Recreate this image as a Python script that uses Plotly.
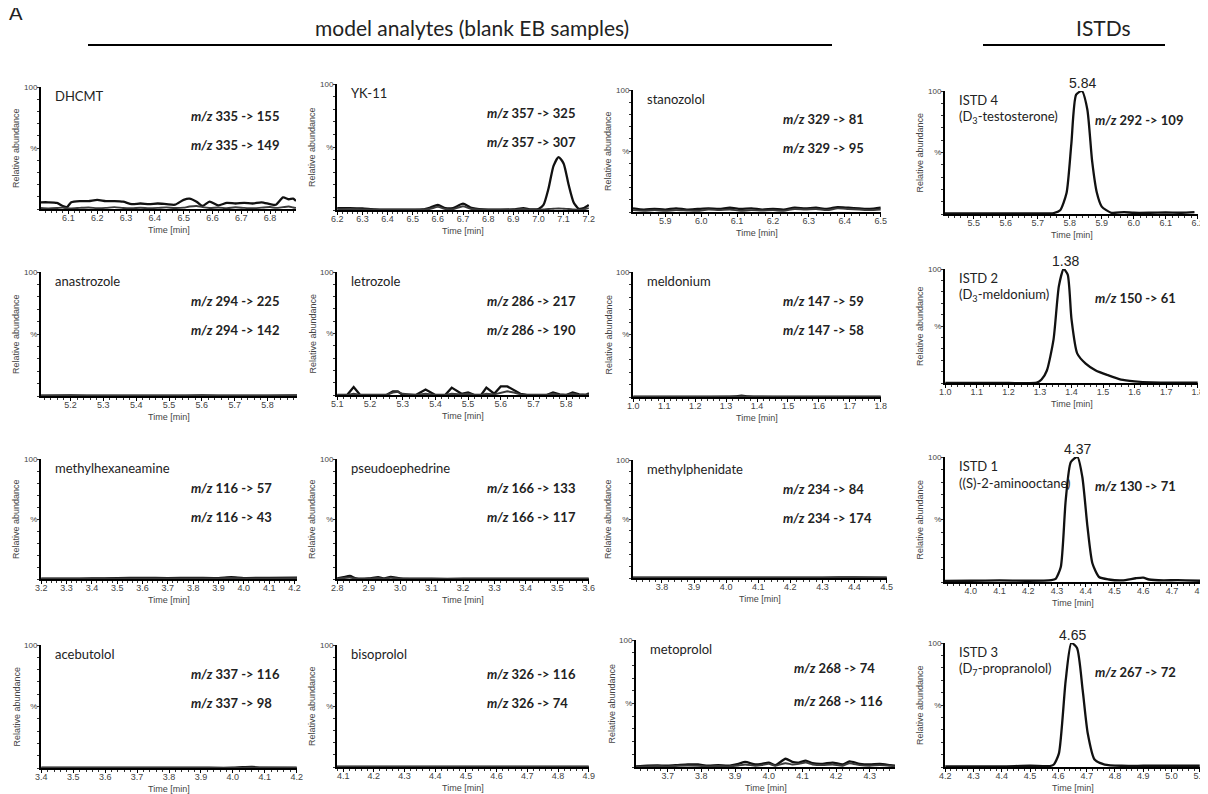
import plotly.graph_objects as go

W, H = 1208, 794
OFF = 8                      # page body margin in the browser
FW, FH = W - OFF, H - OFF    # figure size so that the visible page is exactly W x H

# ---------------- data ----------------
dhcmt_t = [6.005, 6.03, 6.06, 6.08, 6.095, 6.11, 6.14, 6.17, 6.20, 6.23, 6.26, 6.29, 6.32, 6.35, 6.38,
           6.41, 6.44, 6.47, 6.50, 6.52, 6.545, 6.565, 6.59, 6.62, 6.65, 6.68, 6.71, 6.74, 6.77, 6.80,
           6.82, 6.845, 6.865, 6.88, 6.89]
dhcmt_a = [5.5, 5.5, 5, 2.5, 1.5, 5.5, 6.5, 6.5, 7.5, 6.5, 6.5, 6, 4, 4.5, 4,
           4.5, 4, 3.5, 7.5, 8.5, 6, 2.5, 6, 3, 5, 4.5, 5, 4.5, 5.5, 4,
           3.5, 9.5, 8, 8.5, 6.5]
dhcmt_b = [0.8, 0.5, 0.8, 1.2, 0.6, 0.5, 0.9, 1.2, 0.7, 0.9, 1.5, 0.8, 0.6, 1.0, 0.7,
           0.9, 1.3, 0.8, 1.1, 2.0, 2.5, 1.5, 0.8, 1.2, 0.7, 1.4, 0.9, 0.6, 1.1, 1.6,
           0.9, 1.5, 2.0, 1.2, 0.9]

yk11_t = [6.20, 6.25, 6.30, 6.35, 6.40, 6.45, 6.50, 6.54, 6.57, 6.60, 6.63, 6.66, 6.70, 6.73, 6.78,
          6.85, 6.90, 6.94, 6.97, 7.00, 7.02, 7.04, 7.06, 7.08, 7.10, 7.12, 7.14, 7.16, 7.18, 7.20]
yk11_a = [1.5, 1.5, 1.2, 0.5, 0.3, 0.3, 0.3, 0.5, 2, 4, 1.5, 1.5, 5, 2, 0.5,
          0.3, 0.5, 1.5, 0.5, 0.8, 4, 17, 35, 42, 37, 20, 6, 1, 1.5, 4]
yk11_b = [0.6, 0.8, 0.5, 0.3, 0.2, 0.2, 0.3, 0.4, 1.0, 2.5, 0.8, 0.6, 3.0, 1.0, 0.3,
          0.2, 0.3, 0.8, 0.3, 0.3, 0.5, 0.8, 1.0, 1.2, 1.0, 0.8, 0.5, 0.3, 0.5, 1.5]

stano_t = [5.81, 5.84, 5.87, 5.90, 5.93, 5.96, 5.99, 6.02, 6.05, 6.08, 6.11, 6.14,
           6.17, 6.20, 6.23, 6.26, 6.29, 6.32, 6.35, 6.38, 6.41, 6.44, 6.47, 6.50]
stano_a = [3, 2, 2.5, 2, 3, 2, 2.5, 3, 2.5, 3.5, 2.5, 3, 2, 2.5, 2, 3.5, 3, 3.5, 2.5, 4, 3.5, 3, 2.5, 3.5]
stano_b = [1.5, 1, 1.5, 1, 1.5, 1.2, 1, 2, 1.5, 2, 1, 1.5, 1.2, 1.5, 1, 2.5, 2, 2.5, 1.5, 3, 2.5, 2, 1.5, 2]

istd4_t = [5.41, 5.50, 5.60, 5.70, 5.75, 5.77, 5.79, 5.805, 5.82, 5.838, 5.855, 5.87, 5.885, 5.90,
           5.93, 5.97, 6.00, 6.05, 6.10, 6.15, 6.19]
istd4_a = [0.5, 0.5, 0.5, 0.5, 0.8, 3, 17, 57, 97, 100, 85, 43, 17, 6, 1, 1.5, 1, 1, 1.2, 1, 1.5]

anas_t = [5.11, 5.20, 5.30, 5.40, 5.50, 5.60, 5.70, 5.80, 5.89]
anas_a = [0.3, 0.4, 0.3, 0.2, 0.3, 0.4, 0.3, 0.3, 0.4]
anas_b = [0.2, 0.2, 0.3, 0.2, 0.2, 0.3, 0.2, 0.2, 0.3]

letro_t = [5.10, 5.13, 5.15, 5.17, 5.25, 5.27, 5.285, 5.30, 5.34, 5.37, 5.40, 5.43, 5.45, 5.48, 5.50,
           5.52, 5.54, 5.556, 5.58, 5.60, 5.62, 5.64, 5.66, 5.68, 5.74, 5.76, 5.78, 5.80, 5.82, 5.84,
           5.86, 5.87]
letro_a = [0, 0, 6.5, 0, 0, 3, 3, 0, 0, 4.5, 0, 0, 6, 1, 2,
           0, 0, 6, 1, 7, 7, 4, 1, 0, 0, 2, 0.5, 0, 2, 0.5,
           0, 1.5]
letro_b = [0, 0, 1, 0, 0, 2, 2.5, 1, 0, 1, 0, 0, 1, 0.5, 1,
           0, 0, 1, 0.5, 2, 3, 2, 0.5, 0, 0, 1, 0, 0, 1, 0,
           0, 0.5]

meld_t = [1.0, 1.1, 1.2, 1.3, 1.33, 1.35, 1.37, 1.4, 1.5, 1.6, 1.7, 1.8]
meld_a = [0.2, 0.2, 0.2, 0.3, 0.5, 1.0, 0.5, 0.3, 0.2, 0.2, 0.2, 0.2]
meld_b = [0.1, 0.1, 0.1, 0.2, 0.3, 0.6, 0.3, 0.2, 0.1, 0.1, 0.1, 0.1]

istd2_t = [1.0, 1.1, 1.2, 1.29, 1.305, 1.322, 1.343, 1.36, 1.375, 1.388, 1.40, 1.418, 1.445, 1.477,
           1.514, 1.557, 1.60, 1.653, 1.70, 1.80]
istd2_a = [0, 0, 0, 0.3, 3, 11, 38, 85, 100, 95, 56, 26, 17, 11, 7, 3, 1.5, 0.5, 0.3, 0.2]

mhxa_t = [3.2, 3.3, 3.4, 3.5, 3.6, 3.7, 3.8, 3.9, 3.95, 4.0, 4.1, 4.21]
mhxa_a = [0.3, 0.3, 0.4, 0.8, 1.0, 0.8, 1.0, 0.8, 1.5, 0.8, 1.0, 1.2]
mhxa_b = [0.2, 0.2, 0.2, 0.4, 0.5, 0.4, 0.5, 0.5, 0.8, 0.4, 0.5, 0.6]

pseudo_t = [2.80, 2.82, 2.84, 2.86, 2.90, 2.93, 2.95, 2.97, 3.00, 3.1, 3.2, 3.3, 3.4, 3.5, 3.6]
pseudo_a = [0.5, 1.5, 2.5, 0.5, 0.5, 1.5, 0.5, 1.8, 0.5, 0.2, 0.2, 0.2, 0.2, 0.2, 0.2]
pseudo_b = [0.2, 0.8, 1.2, 0.3, 0.2, 0.8, 0.3, 1.0, 0.2, 0.1, 0.1, 0.1, 0.1, 0.1, 0.1]

mphen_t = [3.71, 3.8, 3.9, 4.0, 4.1, 4.2, 4.3, 4.4, 4.5]
mphen_a = [0.3, 0.3, 0.4, 0.3, 0.3, 0.3, 0.4, 0.5, 0.3]
mphen_b = [0.2, 0.2, 0.2, 0.2, 0.2, 0.2, 0.2, 0.3, 0.2]

istd1_t = [3.91, 4.0, 4.1, 4.2, 4.28, 4.295, 4.313, 4.33, 4.348, 4.371, 4.388, 4.406, 4.423, 4.446,
           4.48, 4.527, 4.574, 4.60, 4.62, 4.67, 4.72, 4.80]
istd1_a = [0.8, 1.0, 1.3, 1.0, 1.5, 2.5, 12, 65, 96, 100, 84, 44, 15, 4, 2, 1.3, 3, 3.5, 2, 1.3, 1.5, 1.0]

acebu_t = [3.4, 3.5, 3.6, 3.7, 3.8, 3.9, 4.0, 4.03, 4.06, 4.09, 4.2]
acebu_a = [0.2, 0.2, 0.2, 0.2, 0.2, 0.2, 0.2, 0.6, 0.8, 0.3, 0.2]
acebu_b = [0.1, 0.1, 0.1, 0.1, 0.1, 0.1, 0.1, 0.3, 0.4, 0.2, 0.1]

bisop_t = [4.08, 4.2, 4.3, 4.4, 4.5, 4.6, 4.7, 4.8, 4.9]
bisop_a = [0.2, 0.2, 0.2, 0.2, 0.2, 0.2, 0.2, 0.2, 0.2]
bisop_b = [0.1, 0.1, 0.1, 0.1, 0.1, 0.1, 0.1, 0.1, 0.1]

metop_t = [3.606, 3.64, 3.67, 3.70, 3.73, 3.76, 3.79, 3.82, 3.85, 3.88, 3.91, 3.93, 3.96, 3.98, 4.00,
           4.02, 4.05, 4.07, 4.09, 4.11, 4.13, 4.16, 4.19, 4.22, 4.24, 4.27, 4.30, 4.33, 4.36, 4.375]
metop_a = [0.5, 1.0, 1.2, 1.0, 1.5, 2.0, 2.0, 1.0, 1.5, 1.0, 2.5, 4.0, 2.0, 2.5, 3.5,
           1.5, 6.5, 4.0, 3.5, 5.0, 3.0, 2.5, 3.5, 2.0, 4.5, 2.5, 2.0, 2.5, 1.5, 1.0]
metop_b = [0.3, 0.5, 0.8, 0.5, 1.0, 1.2, 1.0, 0.5, 0.8, 0.5, 1.2, 2.0, 1.0, 1.5, 2.5,
           1.0, 3.0, 2.0, 2.5, 3.5, 2.0, 1.5, 2.0, 1.0, 3.0, 1.5, 1.0, 1.5, 1.0, 0.5]

istd3_t = [4.2, 4.3, 4.4, 4.5, 4.57, 4.584, 4.602, 4.626, 4.646, 4.666, 4.686, 4.704, 4.728, 4.764,
           4.824, 4.9, 5.0, 5.1]
istd3_a = [0.5, 0.5, 0.5, 1.0, 0.8, 2, 11, 70, 100, 96, 62, 27, 6, 2, 1, 1, 1, 1]

names = ["DHCMT", "YK-11", "stanozolol", "ISTD 4",
         "anastrozole", "letrozole", "meldonium", "ISTD 2",
         "methylhexaneamine", "pseudoephedrine", "methylphenidate", "ISTD 1",
         "acebutolol", "bisoprolol", "metoprolol", "ISTD 3"]
subnames = {4: "(D<sub>3</sub>-testosterone)", 8: "(D<sub>3</sub>-meldonium)",
            12: "((S)-2-aminooctane)", 16: "(D<sub>7</sub>-propranolol)"}
transitions = [["335 -> 155", "335 -> 149"], ["357 -> 325", "357 -> 307"], ["329 -> 81", "329 -> 95"], ["292 -> 109"],
               ["294 -> 225", "294 -> 142"], ["286 -> 217", "286 -> 190"], ["147 -> 59", "147 -> 58"], ["150 -> 61"],
               ["116 -> 57", "116 -> 43"], ["166 -> 133", "166 -> 117"], ["234 -> 84", "234 -> 174"], ["130 -> 71"],
               ["337 -> 116", "337 -> 98"], ["326 -> 116", "326 -> 74"], ["268 -> 74", "268 -> 116"], ["267 -> 72"]]
peak_rt = {4: 5.84, 8: 1.38, 12: 4.37, 16: 4.65}

series = [(dhcmt_t, [dhcmt_a, dhcmt_b]), (yk11_t, [yk11_a, yk11_b]), (stano_t, [stano_a, stano_b]), (istd4_t, [istd4_a]),
          (anas_t, [anas_a, anas_b]), (letro_t, [letro_a, letro_b]), (meld_t, [meld_a, meld_b]), (istd2_t, [istd2_a]),
          (mhxa_t, [mhxa_a, mhxa_b]), (pseudo_t, [pseudo_a, pseudo_b]), (mphen_t, [mphen_a, mphen_b]), (istd1_t, [istd1_a]),
          (acebu_t, [acebu_a, acebu_b]), (bisop_t, [bisop_a, bisop_b]), (metop_t, [metop_a, metop_b]), (istd3_t, [istd3_a])]

x_ranges = [[6.005, 6.89], [6.199, 7.201], [5.81, 6.501], [5.41, 6.201],
            [5.11, 5.89], [5.099, 5.87], [0.999, 1.801], [0.999, 1.801],
            [3.199, 4.21], [2.799, 3.601], [3.71, 4.501], [3.91, 4.801],
            [3.399, 4.201], [4.08, 4.901], [3.606, 4.375], [4.199, 5.101]]

# ---------------- layout geometry (page pixels: left, top, right, bottom) ----------------
boxes = [(41, 87, 296, 209), (337, 84, 589, 210), (633, 90, 881, 212), (945, 91, 1198, 214),
         (41, 272, 297, 396), (337, 272, 589, 395), (633, 272, 881, 397), (945, 269, 1198, 383),
         (41, 459, 297, 579), (337, 459, 589, 579), (633, 460, 887, 578), (945, 457, 1201, 582),
         (41, 645, 297, 768), (337, 645, 589, 767), (636, 640, 895, 767), (945, 643, 1200, 767)]
# transition label placement per panel: (x offset from left, first line offset from top, line gap)
mz_pos = [(149, 29, 29)] * 14 + [(157, 28, 33), (149, 29, 29)]


def px(x):
    return (x - OFF) / FW


def py(y):
    return 1 - (y - OFF) / FH


TXT = "Lato, 'Open Sans', sans-serif"
AX = "Arial, 'Liberation Sans', sans-serif"

fig = go.Figure()
annotations = []
layout = {}


def note(text, x, y, size, fam=TXT, xa="center", ya="middle", angle=0, color="#222"):
    annotations.append(dict(text=text, x=px(x), y=py(y), xref="paper", yref="paper", xanchor=xa, yanchor=ya,
                            textangle=angle, showarrow=False, borderpad=0,
                            font=dict(family=fam, size=size, color=color)))


for i in range(16):
    n = i + 1
    xname = "x" if n == 1 else f"x{n}"
    yname = "y" if n == 1 else f"y{n}"
    l, t, r, b = boxes[i]
    tt, ys = series[i]
    lin = "linear" if n == 6 else "spline"
    colors = ["#111111", "#3a3a3a"]
    for k, yy in enumerate(ys):
        fig.add_trace(go.Scatter(x=tt, y=yy, mode="lines", xaxis=xname, yaxis=yname,
                                 line=dict(color=colors[k], width=2.3 if k == 0 else 1.9, shape=lin, smoothing=0.6),
                                 showlegend=False, hoverinfo="skip"))
    layout["xaxis" if n == 1 else f"xaxis{n}"] = dict(
        domain=[px(l), px(r)], anchor=yname, range=x_ranges[i], showgrid=False, zeroline=False, automargin=False,
        showline=True, linecolor="black", linewidth=2, ticks="outside", ticklen=3, tickcolor="black",
        ticklabelstandoff=-4,
        dtick=0.1, tick0=0, tickformat=".1f", tickfont=dict(family=AX, size=9, color="#444"),
        minor=dict(dtick=0.02, ticks="outside", ticklen=1.5, tickcolor="#333"))
    layout["yaxis" if n == 1 else f"yaxis{n}"] = dict(
        domain=[py(b), py(t)], anchor=xname, range=[0, 100], showgrid=False, zeroline=False, automargin=False,
        showline=True, linecolor="black", linewidth=2, ticks="", tickvals=[50, 100], ticktext=["%", "100"],
        tickfont=dict(family=AX, size=8, color="#444"),
        minor=dict(dtick=10, ticks="outside", ticklen=2, tickcolor="#333"))

    # axis titles
    note("Relative abundance", l - 25, (t + b) / 2, 9, fam=AX, angle=-90, color="#444")
    note("Time [min]", (l + r) / 2, b + 21, 9, fam=AX, color="#444")
    # compound name
    note(names[i], l + 13, t + 9, 13, xa="left")
    if n in subnames:
        note(subnames[n], l + 13, t + 26, 13, xa="left")
        annotations.append(dict(text=f"{peak_rt[n]:.2f}", x=peak_rt[n], y=100, xref=xname, yref=yname,
                                xanchor="center", yanchor="bottom", showarrow=False, yshift=-1, borderpad=0,
                                font=dict(family=AX, size=14, color="#222")))
    # transitions
    dx, dy, gap = mz_pos[i]
    for k, tr in enumerate(transitions[i]):
        note(f"<b><i>m/z</i> {tr}</b>", l + dx, t + dy + gap * k, 13, xa="left")

# headers
note("A", 8, 12, 20, xa="left")
note("model analytes (blank EB samples)", 472, 27, 21)
note("ISTDs", 1103, 27, 21)

shapes = [dict(type="line", xref="paper", yref="paper", x0=px(88), x1=px(832), y0=py(45), y1=py(45),
               line=dict(color="black", width=2)),
          dict(type="line", xref="paper", yref="paper", x0=px(983), x1=px(1165), y0=py(45), y1=py(45),
               line=dict(color="black", width=2))]

fig.update_layout(width=FW, height=FH, margin=dict(l=0, r=0, t=0, b=0, autoexpand=False), plot_bgcolor="white",
                  paper_bgcolor="white", annotations=annotations, shapes=shapes, **layout)
fig.write_html("out.html")
